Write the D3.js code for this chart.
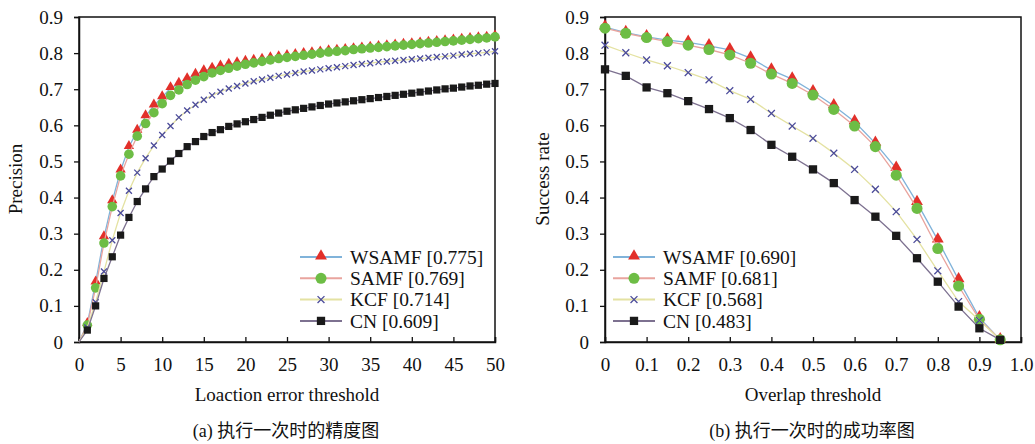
<!DOCTYPE html>
<html>
<head>
<meta charset="utf-8">
<script src="https://cdn.jsdelivr.net/npm/d3@7/dist/d3.min.js"></script>
<style>
  body { margin: 0; background: #fff; }
  text { font-family: "Liberation Serif", "Times New Roman", "Noto Sans CJK SC", serif; fill: #111; }
</style>
</head>
<body>
<div id="chart-area"></div>
<script>
// data
let precThresh = [0,1,2,3,4,5,6,7,8,9,10,11,12,13,14,15,16,17,18,19,20,21,22,23,24,25,
    26,27,28,29,30,31,32,33,34,35,36,37,38,39,40,41,42,43,44,45,46,47,48,49,50];
let precWSAMF = [0,0.05,0.165,0.29,0.39,0.475,0.54,0.585,0.625,0.655,0.678,0.703,0.715,0.728,0.74,0.75,
    0.757,0.763,0.768,0.772,0.776,0.779,0.782,0.786,0.789,0.792,0.795,0.798,0.8,0.802,0.805,0.807,0.809,
    0.811,0.813,0.815,0.817,0.819,0.821,0.823,0.825,0.827,0.829,0.831,0.833,0.835,0.837,0.839,0.841,0.843,0.846];
let precSAMF = [0,0.047,0.15,0.274,0.375,0.46,0.52,0.57,0.605,0.635,0.66,0.683,0.698,0.713,0.725,0.735,
    0.745,0.752,0.758,0.764,0.769,0.773,0.777,0.781,0.785,0.788,0.791,0.794,0.797,0.8,0.803,0.805,0.807,
    0.81,0.812,0.814,0.816,0.818,0.82,0.822,0.824,0.826,0.828,0.83,0.832,0.834,0.836,0.838,0.84,0.842,0.845];
let precKCF = [0,0.04,0.11,0.195,0.282,0.357,0.419,0.469,0.509,0.544,0.573,0.598,0.622,0.641,0.657,0.671,
    0.683,0.693,0.702,0.709,0.716,0.722,0.727,0.732,0.737,0.741,0.745,0.749,0.752,0.755,0.758,0.761,0.764,
    0.767,0.77,0.772,0.775,0.777,0.779,0.781,0.783,0.785,0.787,0.789,0.791,0.793,0.796,0.798,0.8,0.802,0.805];
let precCN = [0,0.033,0.1,0.176,0.236,0.296,0.345,0.389,0.424,0.458,0.479,0.501,0.522,0.541,0.555,0.569,
    0.58,0.588,0.597,0.604,0.61,0.616,0.622,0.628,0.634,0.639,0.643,0.647,0.651,0.655,0.659,0.662,0.665,
    0.668,0.671,0.674,0.677,0.68,0.683,0.686,0.689,0.692,0.695,0.698,0.701,0.703,0.706,0.709,0.711,0.714,0.716];

let overlapThresh = [0,0.05,0.1,0.15,0.2,0.25,0.3,0.35,0.4,0.45,0.5,0.55,0.6,0.65,0.7,0.75,0.8,0.85,0.9,0.95];
let succWSAMF = [0.872,0.857,0.845,0.836,0.83,0.82,0.809,0.786,0.753,0.728,0.693,0.654,0.61,0.55,0.481,0.386,0.282,0.172,0.067,0.006];
let succSAMF = [0.869,0.855,0.843,0.832,0.822,0.81,0.795,0.772,0.742,0.716,0.684,0.644,0.598,0.541,0.462,0.37,0.259,0.155,0.063,0.006];
let succKCF = [0.822,0.801,0.781,0.765,0.746,0.726,0.696,0.672,0.633,0.598,0.564,0.523,0.478,0.423,0.361,0.284,0.197,0.112,0.06,0.006];
let succCN = [0.755,0.737,0.705,0.689,0.667,0.645,0.62,0.587,0.546,0.513,0.478,0.44,0.393,0.347,0.294,0.232,0.167,0.098,0.038,0.006];

let names = ["WSAMF", "SAMF", "KCF", "CN"];
let precScores = ["0.775", "0.769", "0.714", "0.609"];
let succScores = ["0.690", "0.681", "0.568", "0.483"];
let yTicks = [0,0.1,0.2,0.3,0.4,0.5,0.6,0.7,0.8,0.9];
let precXTicks = [0,5,10,15,20,25,30,35,40,45,50];
let succXTicks = [0,0.1,0.2,0.3,0.4,0.5,0.6,0.7,0.8,0.9,1.0];

// styling per series
let lineColor = {WSAMF: "#80b3da", SAMF: "#e9a49e", KCF: "#e4e2a2", CN: "#7d7190"};
let markColor = {WSAMF: "#e2302a", SAMF: "#6dbd45", KCF: "#4b4b9b", CN: "#1a1a1a"};

let svg = d3.select("#chart-area")
    .append("svg")
    .attr("width", 1035)
    .attr("height", 444);

function drawMarker(g, name, x, y, big) {
    let k = big ? 1.15 : 1;
    if (name === "WSAMF") {
        g.append("path").attr("d", d3.symbol(d3.symbolTriangle, 46 * k * k)())
            .attr("transform", "translate(" + x + "," + (y - 1) + ")")
            .attr("fill", markColor[name]);
    } else if (name === "SAMF") {
        g.append("circle").attr("cx", x).attr("cy", y).attr("r", 4.8 * k)
            .attr("fill", markColor[name]);
    } else if (name === "KCF") {
        let s = 3 * k;
        g.append("path")
            .attr("d", "M" + (x - s) + "," + (y - s) + "L" + (x + s) + "," + (y + s) +
                "M" + (x - s) + "," + (y + s) + "L" + (x + s) + "," + (y - s))
            .attr("stroke", markColor[name]).attr("stroke-width", 1.3).attr("fill", "none");
    } else {
        let s = 3.6 * k;
        g.append("rect").attr("x", x - s).attr("y", y - s).attr("width", 2 * s).attr("height", 2 * s)
            .attr("fill", markColor[name]);
    }
}

function drawPanel(p) {
    let x = d3.scaleLinear().domain(p.xDomain).range([p.left, p.right]);
    let y = d3.scaleLinear().domain([0, 0.9]).range([342, 17]);
    let g = svg.append("g");

    // frame
    g.append("rect")
        .attr("x", p.left).attr("y", 17)
        .attr("width", p.right - p.left).attr("height", 325)
        .attr("fill", "none").attr("stroke", "#111").attr("stroke-width", 1.5);

    // axes
    let yAxis = g.append("g")
        .attr("transform", "translate(" + p.left + ",0)")
        .call(d3.axisLeft(y).tickValues(yTicks).tickSize(5).tickPadding(11)
            .tickFormat(d => d === 0 ? "0" : d.toFixed(1)));
    let xAxis = g.append("g")
        .attr("transform", "translate(0,342)")
        .call(d3.axisBottom(x).tickValues(p.xTicks).tickSize(-5).tickPadding(16)
            .tickFormat(p.xFormat));
    [yAxis, xAxis].forEach(a => {
        a.select(".domain").attr("stroke", "#111").attr("stroke-width", 1.5);
        a.selectAll(".tick line").attr("stroke", "#111").attr("stroke-width", 1.3);
        a.selectAll("text").attr("font-size", 19).attr("fill", "#111")
            .style("font-family", "'Liberation Serif', 'Times New Roman', serif");
    });

    // series
    let line = d3.line().x(d => x(d[0])).y(d => y(d[1]));
    p.series.forEach((vals, i) => {
        let name = names[i];
        let pts = p.xs.map((t, j) => [t, vals[j]]);
        g.append("path").datum(pts)
            .attr("d", line)
            .attr("fill", "none")
            .attr("stroke", lineColor[name])
            .attr("stroke-width", 1.3);
        let mg = g.append("g");
        pts.forEach(d => {
            if (d[1] > 0) drawMarker(mg, name, x(d[0]), y(d[1]), p.big);
        });
    });

    // legend
    names.forEach((name, i) => {
        let ly = 257 + i * 21.3;
        g.append("line")
            .attr("x1", p.legX).attr("x2", p.legX + 42)
            .attr("y1", ly).attr("y2", ly)
            .attr("stroke", lineColor[name]).attr("stroke-width", 2);
        drawMarker(g, name, p.legX + 21, ly, true);
        g.append("text")
            .attr("x", p.legX + 50).attr("y", ly)
            .attr("dy", "0.34em")
            .attr("font-size", 19.5)
            .text(name + " [" + p.scores[i] + "]");
    });

    // titles
    g.append("text")
        .attr("transform", "translate(" + p.yTitleX + ",179) rotate(-90)")
        .attr("text-anchor", "middle")
        .attr("font-size", 19)
        .text(p.yTitle);
    g.append("text")
        .attr("x", (p.left + p.right) / 2).attr("y", 401)
        .attr("text-anchor", "middle")
        .attr("font-size", 19)
        .text(p.xTitle);
    g.append("text")
        .attr("x", p.capX).attr("y", 437)
        .attr("text-anchor", "middle")
        .attr("font-size", 18)
        .text(p.caption);
}

drawPanel({
    left: 79, right: 495, xDomain: [0, 50], xTicks: precXTicks, xFormat: d3.format("d"),
    xs: precThresh, series: [precWSAMF, precSAMF, precKCF, precCN], big: false,
    legX: 300, scores: precScores, yTitleX: 22, yTitle: "Precision",
    xTitle: "Loaction error threshold", capX: 286, caption: "(a) 执行一次时的精度图"
});

drawPanel({
    left: 605, right: 1021, xDomain: [0, 1], xTicks: succXTicks,
    xFormat: d => d === 0 ? "0" : d.toFixed(1),
    xs: overlapThresh, series: [succWSAMF, succSAMF, succKCF, succCN], big: true,
    legX: 613, scores: succScores, yTitleX: 549, yTitle: "Success rate",
    xTitle: "Overlap threshold", capX: 812, caption: "(b) 执行一次时的成功率图"
});
</script>
</body>
</html>
